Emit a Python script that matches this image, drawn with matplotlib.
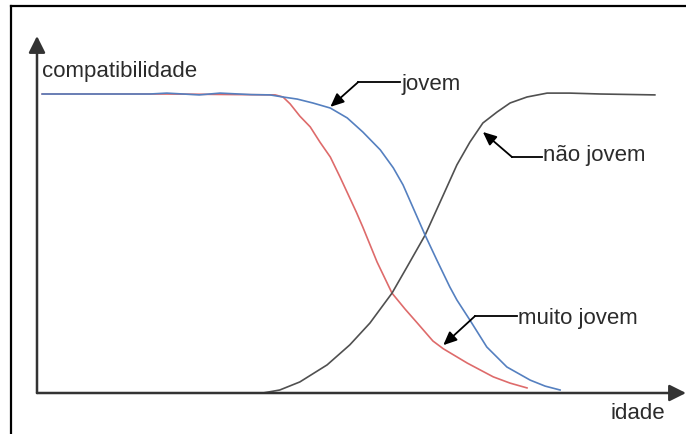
import matplotlib.pyplot as plt
from matplotlib.lines import Line2D

# values (idade in arbitrary units 0-100, compatibilidade 0-1)
idade_jovem = [0.8, 10, 17.4, 20, 25, 28.2, 33, 35.9, 37.9, 40.1, 42.5, 45.2, 47.8, 50.2,
               52.9, 54.9, 56.4, 57.9, 59.8, 61.6, 63.6, 64.7, 66.7, 69.3, 72.4, 76.0, 78.3,
               80.6]
comp_jovem = [1.0, 1.0, 1.0, 1.003, 0.997, 1.003, 0.998, 0.997, 0.990, 0.983, 0.970, 0.953,
              0.920, 0.873, 0.813, 0.753, 0.696, 0.622, 0.528, 0.445, 0.355, 0.311, 0.244,
              0.154, 0.087, 0.043, 0.023, 0.010]

idade_muito = [0.8, 20, 36.7, 37.9, 39.0, 40.5, 42.1, 43.6, 45.2, 46.7, 47.9, 49.2, 50.2,
               52.4, 54.7, 56.7, 58.6, 61.0, 62.6, 66.3, 70.3, 72.9, 75.5]
comp_muito = [1.0, 1.0, 0.997, 0.990, 0.967, 0.926, 0.890, 0.839, 0.789, 0.722, 0.666,
              0.605, 0.555, 0.438, 0.334, 0.281, 0.234, 0.174, 0.148, 0.100, 0.054, 0.033,
              0.017]

idade_nao = [34.8, 37.4, 40.5, 44.7, 48.2, 51.3, 54.7, 57.0, 59.8, 62.6, 64.7, 66.7, 68.7,
             70.9, 72.9, 75.5, 78.6, 82.1, 86.8, 95.2]
comp_nao = [0.0, 0.010, 0.037, 0.094, 0.161, 0.234, 0.334, 0.421, 0.528, 0.662, 0.763,
            0.839, 0.903, 0.940, 0.970, 0.990, 1.003, 1.003, 1.0, 0.997]

plt.rcParams['font.family'] = ['Liberation Sans', 'DejaVu Sans']
txt_color = '#2b2b2b'
fs = 16

fig = plt.figure(figsize=(6.86, 4.34), dpi=100)
ax = fig.add_axes([37 / 686, 41 / 434, 649 / 686, 357 / 434])
ax.set_xlim(0, 100)
ax.set_ylim(0, 1.194)
ax.axis('off')

# outer frame (only top and left edges visible)
fig.add_artist(Line2D([11 / 686, 1], [1 - 6 / 434, 1 - 6 / 434], color='black', lw=1.6))
fig.add_artist(Line2D([11 / 686, 11 / 686], [0, 1 - 6 / 434], color='black', lw=1.6))

# axes with arrow heads
arr = dict(arrowstyle='-|>,head_length=0.5,head_width=0.25', color='#333333', lw=1.8,
           mutation_scale=20, shrinkA=0, shrinkB=0)
ax.annotate('', xy=(0, 1), xytext=(0, 0), xycoords='axes fraction', arrowprops=arr,
            annotation_clip=False)
ax.annotate('', xy=(1, 0), xytext=(0, 0), xycoords='axes fraction', arrowprops=arr,
            annotation_clip=False)

ax.plot(idade_muito, comp_muito, color='#de6b6b', lw=1.2)
ax.plot(idade_nao, comp_nao, color='#505050', lw=1.2)
ax.plot(idade_jovem, comp_jovem, color='#5580c0', lw=1.2)

ax.text(0.8, 1.074, 'compatibilidade', fontsize=fs, color=txt_color, va='center', ha='left')
ax.text(88.3, -0.067, 'idade', fontsize=fs, color=txt_color, va='center', ha='left',
        clip_on=False)

# labels with leader lines: (text pos, elbow, arrow tip)
leaders = [
    ('jovem', (56.2, 1.033), (49.5, 1.040), (45.2, 0.957)),
    ('não jovem', (78.0, 0.796), (73.2, 0.789), (68.7, 0.873)),
    ('muito jovem', (74.1, 0.25), (67.5, 0.2575), (62.6, 0.160)),
]
lead = dict(arrowstyle='-|>,head_length=0.45,head_width=0.2', color='black', lw=1.3,
            mutation_scale=18, shrinkA=0, shrinkB=0)
for label, tpos, elbow, tip in leaders:
    ax.text(tpos[0], tpos[1], label, fontsize=fs, color=txt_color, va='center', ha='left')
    ax.plot([elbow[0], tpos[0] - 0.2], [elbow[1], elbow[1]], color='black', lw=1.3)
    ax.annotate('', xy=tip, xytext=elbow, arrowprops=lead)

fig.savefig('out.png', dpi=100)
